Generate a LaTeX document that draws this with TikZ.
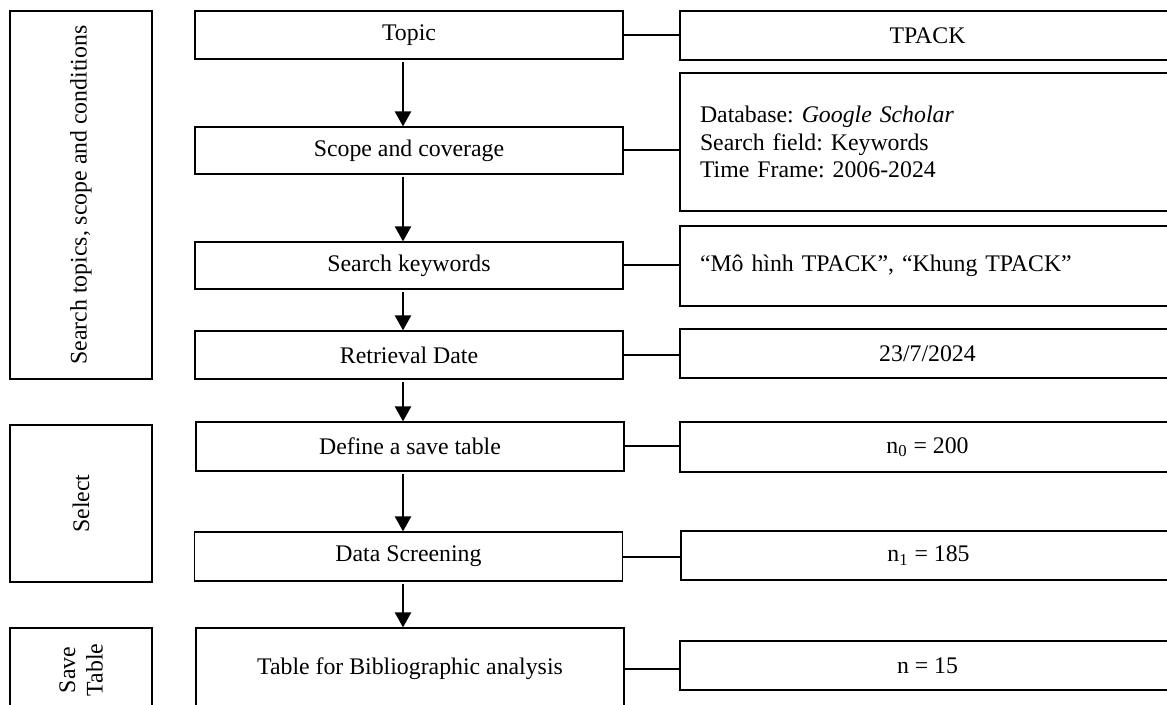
\documentclass[tikz,border=0pt]{standalone}
\usepackage{fontspec}
\setmainfont{Liberation Serif}
\usetikzlibrary{arrows.meta}
\frenchspacing

\tikzset{
    box/.style={draw, line width=0.6pt, minimum width=214pt, minimum height=24pt, inner sep=0pt},
    infobox/.style={draw, line width=0.6pt, minimum width=247.5pt, minimum height=24.5pt, inner sep=0pt},
    notebox/.style={infobox, text width=227.5pt, inner xsep=10pt, align=left},
    groupbox/.style={draw, line width=0.6pt, rotate=90, minimum height=71pt, inner sep=0pt, align=center},
    flow/.style={line width=1.2pt, -{Triangle[width=8pt,length=7.5pt]}},
    link/.style={line width=1pt}
}

\begin{document}
\begin{tikzpicture}[x=0.5pt, y=-0.5pt, font=\fontsize{11.9}{13.75}\selectfont]
    \useasboundingbox (0,0) rectangle (1167,705);

    % phases on the left
    \node[groupbox, minimum width=184pt] (phase1) at (81,195) {Search topics, scope and conditions};
    \node[groupbox, minimum width=78.5pt] (phase2) at (81,503.5) {Select};
    \node[groupbox, minimum width=42pt] (phase3) at (81,670) {Save\\Table};

    % steps
    \node[box] (topic) at (409,35) {Topic};
    \node[box, minimum height=23.5pt] (scope) at (409,150.5) {Scope and coverage};
    \node[box, minimum height=23.5pt] (keyw) at (409,265.5) {Search keywords};
    \node[box] (retr) at (409,355) {Retrieval Date};
    \node[box, minimum height=24.5pt] (define) at (410,446.5) {Define a save table};
    \node[box, minimum height=24.5pt] (screen) at (408.5,556.5) {Data Screening};
    \node[box, minimum height=41pt] (table) at (410,669) {Table for Bibliographic analysis};
    \coordinate (spine) at (403,0);

    % details on the right
    \node[infobox] (tpack) at (927.5,35.5) {TPACK};
    \node[notebox, minimum height=69pt] (db) at (927.5,142)
        {Database: \textit{Google Scholar}\\Search field: Keywords\\Time Frame: 2006-2024};
    \node[notebox, minimum height=40pt] (kw) at (927.5,266) {“Mô hình TPACK”, “Khung TPACK”};
    \node[infobox] (date) at (927.5,353.5) {23/7/2024};
    \node[infobox, minimum height=25pt] (n0) at (927.5,447) {n\textsubscript{0} = 200};
    \node[infobox] (n1) at (928.5,555.5) {n\textsubscript{1} = 185};
    \node[infobox] (n) at (927.5,665.5) {n = 15};

    \foreach \a/\b in {topic/scope, scope/keyw, keyw/retr, retr/define, define/screen, screen/table}
        \draw[flow] ([yshift=-1pt]\a.south -| spine) -- (\b.north -| spine);

    \foreach \a/\b in {topic/tpack, scope/db, keyw/kw, retr/date, define/n0, screen/n1, table/n}
        \draw[link] (\a.east) -- (\a.east -| \b.west);
\end{tikzpicture}
\end{document}
